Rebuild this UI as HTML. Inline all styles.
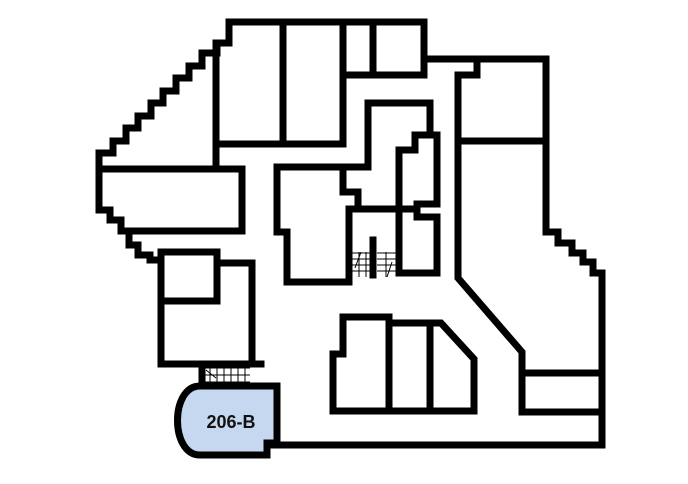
<!DOCTYPE html>
<html><head><style>html,body{margin:0;padding:0;background:#fff}svg{display:block}</style></head><body>
<svg width="688" height="484" viewBox="0 0 688 484" xmlns="http://www.w3.org/2000/svg">
<path d="M200 386 H277 V443 H267 V455 H200 C170 455 170 386 200 386 Z" fill="#c6d7f0" stroke="#000" stroke-width="7"/>
<text x="231" y="428" font-family="Liberation Sans, sans-serif" font-size="18" font-weight="bold" text-anchor="middle" fill="#111">206-B</text>
<g fill="none" stroke="#000" stroke-width="7" stroke-linejoin="miter" stroke-linecap="square">
<polyline points="424,75 424,22 229,22 229,43 217,43 217,53 202,53 202,66 189,66 189,78 176,78 176,91 163,91 163,103 151,103 151,116 138,116 138,128 126,128 126,141 113,141 113,153 99,153 99,210 110,210 110,220 121,220 121,231 129,231 129,245 138,245 138,255 150,255 150,260 158,260"/>
<polyline points="216,43 216,169"/>
<polyline points="216,144 343,144 343,22"/>
<polyline points="283,22 283,144"/>
<polyline points="373,22 373,75"/>
<polyline points="343,75 424,75"/>
<polyline points="99,169 242,169 242,231 121,231"/>
<polyline points="424,59 546,59 546,232 558,232 558,243 572,243 572,253 583,253 583,262 593,262 593,273 602,273 602,445 273,445"/>
<polyline points="477,59 477,75 458,75 458,278 522,352 522,412 602,412"/>
<polyline points="522,373 602,373"/>
<polyline points="458,141 546,141"/>
<polyline points="417,209 349,209 349,282 287,282 287,232 277,232 277,167 368,167 368,103 430,103 430,135"/>
<polyline points="343,167 343,192 358,192 358,209"/>
<polyline points="415,135 437,135 437,204 417,204 417,217 437,217 437,273 399,273 399,150 415,150 415,135"/>
<polyline points="373,240 373,275"/>
<polygon points="343,317 389,317 389,323 441,323 474,359 474,411 333,411 333,354 343,354"/>
<polyline points="389,323 389,411"/>
<polyline points="430,323 430,411"/>
<polyline points="161,252 217,252 217,263 252,263 252,364"/>
<polyline points="161,252 161,364 261,364"/>
<polyline points="161,301 217,301 217,263"/>
<polyline points="202,364 202,386"/>
</g>
<g stroke="#000" stroke-width="1" fill="none">
<path d="M205 368 H250 M205 375 H250 M205 382 H250 M210 368 V384 M217 368 V384 M224 368 V384 M231 368 V384 M238 368 V384 M245 368 V384 M206 370 L216 378"/>
<path d="M352 253 H370 M352 259 H370 M352 265 H370 M352 271 H370 M359 252 V277 M366 252 V277 M377 253 H396 M377 259 H396 M377 265 H396 M377 271 H396 M386 252 V277 M355 268 L361 252 M387 277 L392 262"/>
</g>
</svg>
</body></html>
